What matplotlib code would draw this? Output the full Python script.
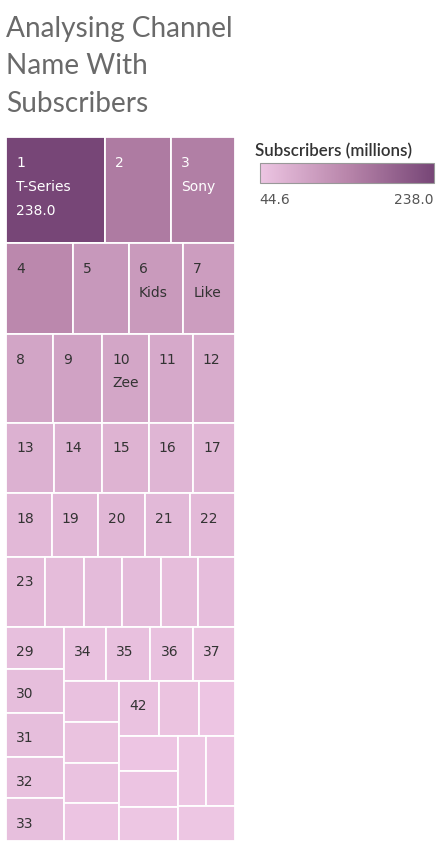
import matplotlib.pyplot as plt
from matplotlib.colors import LinearSegmentedColormap, Normalize
from matplotlib.patches import Rectangle
from matplotlib.cm import ScalarMappable

# channel rank as shown in each tile (treemap order)
ranks = list(range(1, 51))

# subscribers (millions), read from the tile areas
subscribers = [
    238.0, 157.4, 152.4,
    138.0, 114.2, 111.4, 106.0,
    94.6, 98.4, 93.0, 88.4, 84.6,
    76.9, 76.7, 74.0, 70.7, 67.0,
    65.6, 66.5, 67.1, 64.8, 64.2,
    62.1, 60.2, 60.6, 61.2, 58.4, 57.7,
    55.2, 56.7, 57.4, 54.3, 55.3,
    52.3, 53.9, 52.3, 51.2,
    52.2, 50.7, 50.3, 47.4,
    49.9, 49.4, 45.5,
    45.5, 47.4, 45.1,
    44.9, 45.4,
    44.6,
]

# channel names that fit inside their tile
names = {1: 'T-Series', 3: 'Sony', 6: 'Kids', 7: 'Like', 10: 'Zee'}

# tiles too small for a label
no_label = list(range(24, 29)) + list(range(38, 42)) + list(range(43, 51))

# how many tiles go in each strip of the treemap
strip_sizes = [3, 4, 5, 5, 5, 6, 5, 4, 4, 3, 3, 2, 1]

cmap = LinearSegmentedColormap.from_list(
    'purples', [(0, '#edc6e3'), (0.5, '#b986ab'), (1, '#774677')])
norm = Normalize(min(subscribers), max(subscribers))


def strip_layout(vals, sizes, x, y, w, h):
    # lay tiles out strip by strip, always along the shorter side
    scale = w * h / sum(vals)
    rects = []
    i = 0
    for n in sizes:
        chunk = vals[i:i + n]
        area = sum(chunk) * scale
        if w <= h:
            rh = area / w
            cx = x
            for v in chunk:
                cw = v * scale / rh
                rects.append((cx, y, cw, rh))
                cx += cw
            y += rh
            h -= rh
        else:
            cw = area / h
            cy = y
            for v in chunk:
                ch = v * scale / cw
                rects.append((x, cy, cw, ch))
                cy += ch
            x += cw
            w -= cw
        i += n
    return rects


fig = plt.figure(figsize=(4.41, 8.47), dpi=100)

# title
title_lines = ['Analysing Channel', 'Name With', 'Subscribers']
for k, line in enumerate(title_lines):
    fig.text(6 / 441, 1 - (37.5 + 37 * k) / 847, line, fontsize=20.2,
             family='Lato', fontweight='normal', color='#6a6a6a', va='baseline')

ax = fig.add_axes([6 / 441, 6.3 / 847, 229 / 441, 703.4 / 847])
W, H = ax.bbox.width, ax.bbox.height
ax.set_xlim(0, W)
ax.set_ylim(H, 0)
ax.axis('off')

rects = strip_layout(subscribers, strip_sizes, 0, 0, W, H)
for (x, y, w, h), r, v in zip(rects, ranks, subscribers):
    ax.add_patch(Rectangle((x, y), w, h, facecolor=cmap(norm(v)),
                           edgecolor='white', linewidth=1.3, clip_on=False))
    if r in no_label:
        continue
    lines = [str(r)]
    if r in names:
        lines.append(names[r])
    if r == 1:
        lines.append(f'{v:.1f}')
    tc = 'white' if v > 150 else '#333333'
    for k, t in enumerate(lines):
        ax.annotate(t, (x, y), xytext=(7.2, -21.2 - 17.2 * k), textcoords='offset points',
                    fontsize=10, family='DejaVu Sans', color=tc, va='baseline', ha='left')

# colour legend
fig.text(255 / 441, 1 - 156.5 / 847, 'Subscribers (millions)', fontsize=12.2,
         family='Lato', fontweight='semibold', color='#333333', va='baseline')
cax = fig.add_axes([259.5 / 441, 1 - 183.5 / 847, 174 / 441, 20 / 847])
cb = fig.colorbar(ScalarMappable(norm=norm, cmap=cmap), cax=cax, orientation='horizontal')
cb.set_ticks([])
cb.outline.set_edgecolor('#999999')
cb.outline.set_linewidth(0.8)
cax.text(0, -0.45, f'{min(subscribers):.1f}', transform=cax.transAxes, ha='left', va='top',
         fontsize=10, family='DejaVu Sans', color='#555555')
cax.text(1, -0.45, f'{max(subscribers):.1f}', transform=cax.transAxes, ha='right', va='top',
         fontsize=10, family='DejaVu Sans', color='#555555')

fig.savefig('out.png', dpi=100)
